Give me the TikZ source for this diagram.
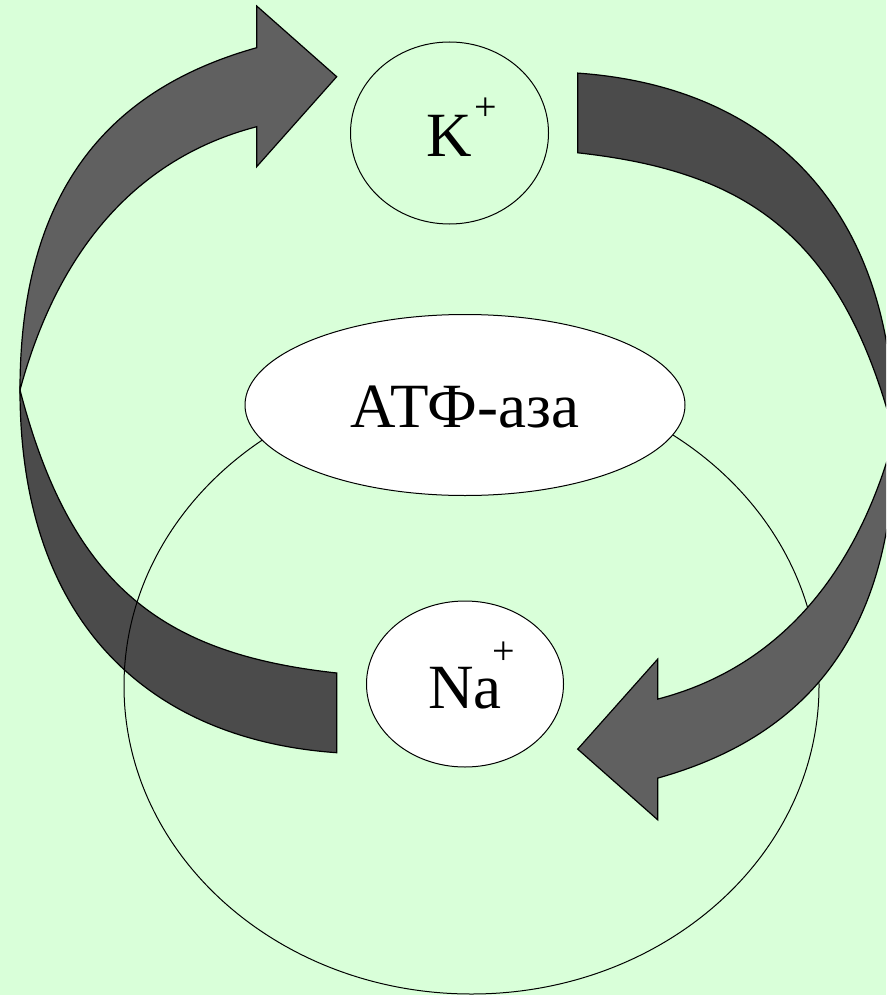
\documentclass[tikz,border=0pt]{standalone}
\usepackage{fontspec}
\setmainfont{Liberation Serif}
\newfontfamily\timesfont{Liberation Serif}
\usetikzlibrary{shapes.geometric}
\definecolor{bggreen}{RGB}{217,255,217}
\definecolor{bandlight}{RGB}{96,96,96}
\definecolor{banddark}{RGB}{75,75,75}
\tikzset{
ring/.style = {draw, ellipse, line width = 1pt, inner sep = 0pt},
bandfront/.style = {fill = bandlight, draw = black, line width = 1.2pt},
bandback/.style = {fill = banddark, draw = black, line width = 1.2pt},
ionlabel/.style = {font = \timesfont\fontsize{63}{70}\selectfont, inner sep = 0pt}}
\newcommand{\ionplus}[1]{\raisebox{#1}{\timesfont\fontsize{40}{40}\selectfont +}}

\begin{document}
\begin{tikzpicture}[x=1pt, y=-1pt]
%
%''''''''''''''''''''''''''''Choose arrow geometry''''''''''''''''''''''''''''''''''''''''''''''''''''''
\def\twistx{20} % x of the point where the band twists
\def\twisty{390} % y of the point where the band twists
\def\headx{256.7} % base of the arrow head
\def\tipx{336.7} % tip of the arrow head and end of the tail
\def\rotx{457.2} % centre for the second arrow
\def\roty{412.9}
%''''''''''''''''''''''''''''''''''''''''''''''''''''''''''''''''''''''''''''''''''''''''''''''''''''''''
%
% background
\fill[bggreen] (0,0) rectangle (886,995);
\useasboundingbox (0,0) rectangle (886,995);
\clip (0,0) rectangle (886,995);
%
\def\pumparrow{%
% back part, tail
\filldraw[bandback] (\twistx,\twisty) .. controls (20,620) and (146.7,739.4) .. (\tipx,752.7)
  -- (\tipx,673) .. controls (166.7,654.3) and (72,590) .. (\twistx,\twisty) -- cycle;
% front part, head
\filldraw[bandfront] (\twistx,\twisty) .. controls (20,180) and (119.2,86.2) .. (\headx,47.7)
  -- (\headx,6) -- (\tipx,76.7) -- (\headx,166.7) -- (\headx,126.7)
  .. controls (136.7,157.9) and (57.8,250) .. (\twistx,\twisty) -- cycle;
}
%
%----------------------------------------------------------------------------------
% arrow K+ inwards (left)
\pumparrow
%
% outer loop
\node[ring, minimum width = 695pt, minimum height = 616pt] (pumploop) at (471.5,686) {};
%
% arrow Na+ outwards (right)
\begin{scope}[rotate around = {180:(\rotx,\roty)}]
\pumparrow
\end{scope}
%----------------------------------------------------------------------------------
%
% enzyme and ions
\node[ring, fill = white, minimum width = 440pt, minimum height = 181pt] (atpase) at (465,405) {};
\node[ring, fill = white, minimum width = 197pt, minimum height = 166pt] (naion) at (465,684) {};
\node[ring, minimum width = 198pt, minimum height = 182pt] (kion) at (449.5,133) {};
%
\node[ionlabel, anchor = base] (atpasetext) at (465,427.3) {АТФ-аза};
\node[ionlabel, anchor = base west] (natext) at (428,708.3) {Na\kern-9pt\ionplus{43.8pt}};
\node[ionlabel, anchor = base west] (ktext) at (426.5,156.7) {K\kern2pt\ionplus{36pt}};
%
\end{tikzpicture}
\end{document}
